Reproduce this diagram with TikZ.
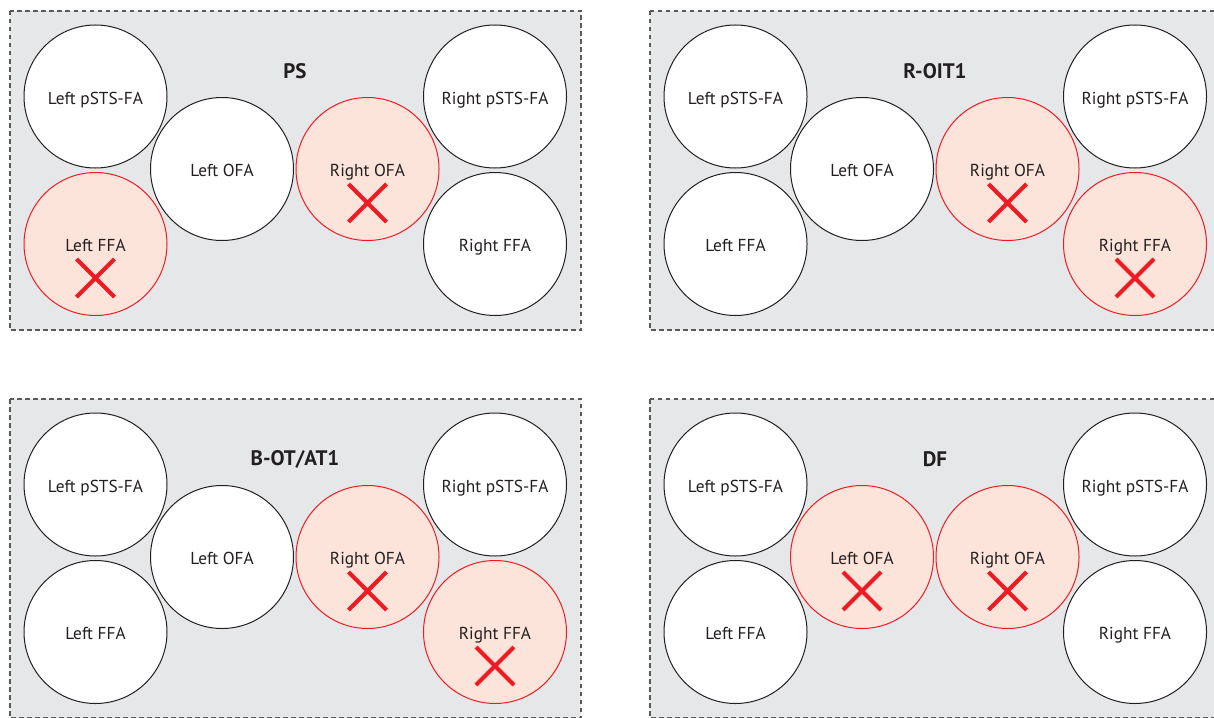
\documentclass[tikz,border=0pt]{standalone}
\usepackage{fontspec}
\setmainfont{PT Sans}
\definecolor{bggray}{HTML}{E6E7E8}
\definecolor{bordergray}{HTML}{595A5C}
\definecolor{lesred}{HTML}{ED1C24}
\definecolor{lespink}{HTML}{FCE4DA}
\definecolor{inkblack}{HTML}{231F20}
\tikzset{
  panelbox/.style={draw=bordergray, fill=bggray, dash pattern=on 4.5pt off 3.5pt, line width=1.1pt},
  region/.style={circle, draw=inkblack, fill=white, line width=1pt, minimum size=143pt, inner sep=0pt,
    font=\fontsize{17.3}{20}\selectfont, text=inkblack, text height=15.5pt, text depth=0pt},
  lesion/.style={region, draw=lesred, fill=lespink},
  ttl/.style={font=\bfseries\fontsize{21}{24}\selectfont, text=inkblack, inner sep=0pt},
  xmark/.pic={\draw[line width=4pt, draw=lesred] (-19,15) -- (19,53) (-19,53) -- (19,15);}
}
\begin{document}
\begin{tikzpicture}[x=1pt,y=-1pt]
\useasboundingbox (0,0) rectangle (1214,717);
% Panel 1: PS
\begin{scope}[shift={(0,0)}]
  \path[panelbox] (10,11) rectangle (581,330);
  \node[ttl] (t1) at (295,71) {PS};
  \node[region] (a1) at (95.5,96.5) {Left pSTS-FA};
  \node[lesion] (a2) at (95.5,244) {Left FFA};
  \node[region] (a3) at (222,169) {Left OFA};
  \node[lesion] (a4) at (367.5,169) {Right OFA};
  \node[region] (a5) at (495,96.5) {Right pSTS-FA};
  \node[region] (a6) at (495,244) {Right FFA};
  \pic at (a2.center) {xmark};
  \pic at (a4.center) {xmark};
\end{scope}
% Panel 2: R-OIT1
\begin{scope}[shift={(640,0)}]
  \path[panelbox] (10,11) rectangle (581,330);
  \node[ttl] (t2) at (295,71) {R-OIT1};
  \node[region] (b1) at (95.5,96.5) {Left pSTS-FA};
  \node[region] (b2) at (95.5,244) {Left FFA};
  \node[region] (b3) at (222,169) {Left OFA};
  \node[lesion] (b4) at (367.5,169) {Right OFA};
  \node[region] (b5) at (495,96.5) {Right pSTS-FA};
  \node[lesion] (b6) at (495,244) {Right FFA};
  \pic at (b4.center) {xmark};
  \pic at (b6.center) {xmark};
\end{scope}
% Panel 3: B-OT/AT1
\begin{scope}[shift={(0,388)}]
  \path[panelbox] (10,11) rectangle (581,330);
  \node[ttl] (t3) at (295,71) {B-OT/AT1};
  \node[region] (c1) at (95.5,96.5) {Left pSTS-FA};
  \node[region] (c2) at (95.5,244) {Left FFA};
  \node[region] (c3) at (222,169) {Left OFA};
  \node[lesion] (c4) at (367.5,169) {Right OFA};
  \node[region] (c5) at (495,96.5) {Right pSTS-FA};
  \node[lesion] (c6) at (495,244) {Right FFA};
  \pic at (c4.center) {xmark};
  \pic at (c6.center) {xmark};
\end{scope}
% Panel 4: DF
\begin{scope}[shift={(640,388)}]
  \path[panelbox] (10,11) rectangle (581,330);
  \node[ttl] (t4) at (295,71) {DF};
  \node[region] (d1) at (95.5,96.5) {Left pSTS-FA};
  \node[region] (d2) at (95.5,244) {Left FFA};
  \node[lesion] (d3) at (222,169) {Left OFA};
  \node[lesion] (d4) at (367.5,169) {Right OFA};
  \node[region] (d5) at (495,96.5) {Right pSTS-FA};
  \node[region] (d6) at (495,244) {Right FFA};
  \pic at (d3.center) {xmark};
  \pic at (d4.center) {xmark};
\end{scope}
\end{tikzpicture}
\end{document}
